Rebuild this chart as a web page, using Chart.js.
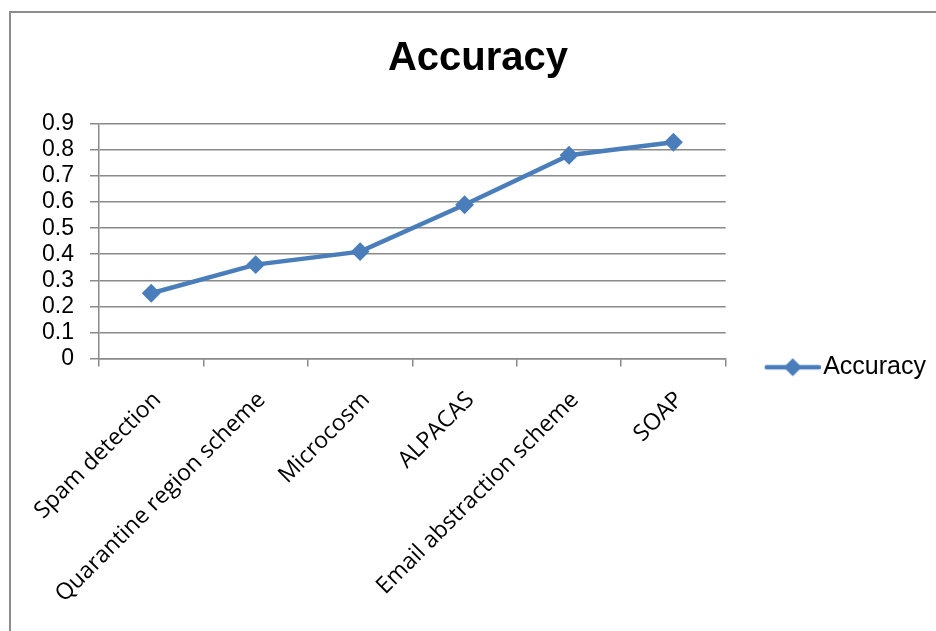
<!DOCTYPE html>
<html>
<head>
<meta charset="utf-8">
<script src="https://cdn.jsdelivr.net/npm/chart.js@4.4.1/dist/chart.umd.min.js"></script>
<style>
  html, body { margin: 0; padding: 0; background: #fff; overflow: hidden; }
  #wrap { position: relative; width: 936px; height: 631px; }
  #frame { position: absolute; left: 9px; top: 11px; width: 1000px; height: 1000px;
           border-left: 2px solid #8d8d8d; border-top: 2px solid #8d8d8d; }
  #chart { position: absolute; left: 0; top: 0; }
</style>
</head>
<body>
<div id="wrap">
  <div id="frame"></div>
  <canvas id="chart" width="936" height="631"></canvas>
</div>
<script>
// --- Data ---
const categories = ['Spam detection', 'Quarantine region scheme', 'Microcosm', 'ALPACAS', 'Email abstraction scheme', 'SOAP'];
const accuracyValues = [0.25, 0.36, 0.41, 0.59, 0.78, 0.83];
const seriesName = 'Accuracy';
const yMin = 0;
const yMax = 0.9;
const yStep = 0.1;

// --- Styles ---
const lineColor = '#4a7ebb';
const gridColor = '#8a8a8a';

// legend icon: line with a diamond, like the office-style legend
function makeLegendIcon() {
    const c = document.createElement('canvas');
    c.width = 97;
    c.height = 24;
    const g = c.getContext('2d');
    g.strokeStyle = lineColor;
    g.fillStyle = lineColor;
    g.lineWidth = 4.5;
    g.lineCap = 'round';
    g.beginPath();
    g.moveTo(43, 12);
    g.lineTo(95, 12);
    g.stroke();
    g.beginPath();
    g.moveTo(69, 3);
    g.lineTo(78, 12);
    g.lineTo(69, 21);
    g.lineTo(60, 12);
    g.closePath();
    g.fill();
    return c;
}
const legendIcon = makeLegendIcon();

const ctx = document.getElementById('chart').getContext('2d');

const chart = new Chart(ctx, {
    type: 'line',
    data: {
        labels: categories,
        datasets: [{
            label: seriesName,
            data: accuracyValues,
            borderColor: lineColor,
            backgroundColor: lineColor,
            borderWidth: 4.5,
            pointStyle: 'rectRot',
            pointRadius: 8,
            pointBorderWidth: 2,
            pointBackgroundColor: lineColor,
            pointBorderColor: lineColor,
            tension: 0,
            fill: false
        }]
    },
    options: {
        responsive: false,
        animation: false,
        layout: {
            padding: { left: 20, right: 0, top: 0, bottom: 3 }
        },
        scales: {
            x: {
                offset: true,
                grid: {
                    offset: true,
                    drawOnChartArea: false,
                    drawTicks: true,
                    tickLength: 8,
                    color: gridColor,
                    lineWidth: 1.5
                },
                border: { display: true, color: gridColor, width: 1.5 },
                ticks: {
                    minRotation: 45,
                    maxRotation: 45,
                    autoSkip: false,
                    padding: 20,
                    labelOffset: 6,
                    color: '#000',
                    font: { family: "'Open Sans', sans-serif", size: 23 }
                }
            },
            y: {
                min: yMin,
                max: yMax,
                afterFit: function (scale) { scale.width = 79; },
                grid: {
                    color: gridColor,
                    lineWidth: 1.5,
                    drawTicks: true,
                    tickLength: 9
                },
                border: { display: true, color: gridColor, width: 1.5 },
                ticks: {
                    stepSize: yStep,
                    autoSkip: false,
                    padding: 16,
                    color: '#000',
                    font: { family: "'Liberation Sans', Arial, sans-serif", size: 23 },
                    callback: function (v) { return v === 0 ? '0' : v.toFixed(1); }
                }
            }
        },
        plugins: {
            title: {
                display: true,
                text: seriesName,
                color: '#000',
                font: { family: "'Liberation Sans Narrow', 'Arial Narrow', 'Liberation Sans', sans-serif", size: 40, weight: 'bold' },
                padding: { top: 35, bottom: 41 }
            },
            legend: {
                position: 'right',
                align: 'center',
                title: { display: true, text: '', padding: { top: 92, bottom: 0 }, font: { size: 12 } },
                labels: {
                    usePointStyle: true,
                    pointStyleWidth: 77,
                    padding: 8,
                    color: '#000',
                    font: { family: "'Liberation Sans Narrow', 'Arial Narrow', 'Liberation Sans', sans-serif", size: 25 },
                    generateLabels: function (c) {
                        return Chart.defaults.plugins.legend.labels.generateLabels(c).map(function (l) {
                            l.pointStyle = legendIcon;
                            return l;
                        });
                    }
                }
            },
            tooltip: { enabled: false }
        }
    }
});
</script>
</body>
</html>
